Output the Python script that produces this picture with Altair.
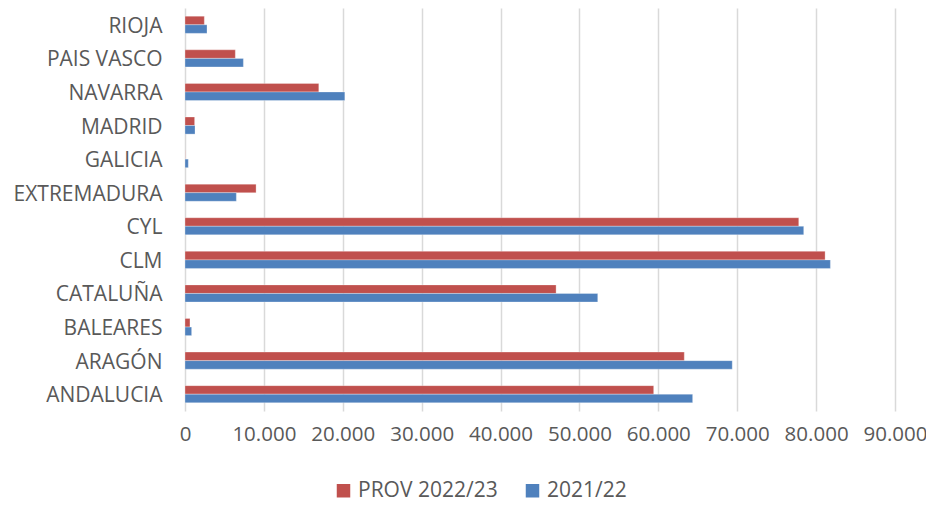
import altair as alt
import pandas as pd

categories = ["RIOJA", "PAIS VASCO", "NAVARRA", "MADRID", "GALICIA", "EXTREMADURA",
              "CYL", "CLM", "CATALUÑA", "BALEARES", "ARAGÓN", "ANDALUCIA"]
prov_2022_23 = [2450, 6380, 16960, 1220, 30, 9010, 77800, 81140, 47040, 630, 63290, 59410]
val_2021_22 = [2790, 7400, 20260, 1270, 420, 6510, 78430, 81810, 52320, 840, 69370, 64350]
series = ["PROV 2022/23", "2021/22"]
colors = ["#C0504D", "#4F81BD"]
x_ticks = [0, 10000, 20000, 30000, 40000, 50000, 60000, 70000, 80000, 90000]

rows = []
for c, a, b in zip(categories, prov_2022_23, val_2021_22):
    rows.append({"region": c, "serie": series[0], "value": a})
    rows.append({"region": c, "serie": series[1], "value": b})
df = pd.DataFrame(rows)

FONT = "Open Sans"
FS = 21
TXT = "#595959"

chart = alt.Chart(df).mark_bar(strokeWidth=0.6, stroke="#ffffff", strokeOpacity=0.5).encode(
    y=alt.Y("region:N", sort=categories,
            scale=alt.Scale(paddingInner=0.49, paddingOuter=0.245),
            axis=alt.Axis(title=None, domain=False, ticks=False, labelPadding=23,
                          labelOffset=2,
                          labelFontSize=FS, labelColor=TXT, labelFont=FONT,
                          grid=False)),
    yOffset=alt.YOffset("serie:N", sort=series, scale=alt.Scale(paddingInner=0, paddingOuter=0)),
    x=alt.X("value:Q", scale=alt.Scale(domain=[0, 90000], nice=False),
            axis=alt.Axis(title=None, values=x_ticks, domain=False, ticks=False,
                          labelPadding=13, labelFontSize=20.5, labelColor=TXT,
                          labelFont=FONT, gridColor="#d9d9d9", gridWidth=1.5,
                          labelOverlap=False, labelFlush=False,
                          labelExpr="replace(format(datum.value, ','), ',', '.')")),
    color=alt.Color("serie:N", sort=series,
                    scale=alt.Scale(domain=series, range=colors),
                    legend=alt.Legend(title=None, orient="none", direction="horizontal",
                                      legendX=148, legendY=472, padding=0,
                                      symbolType="square", symbolSize=182,
                                      symbolStrokeWidth=0,
                                      labelFontSize=FS, labelColor=TXT,
                                      labelFont=FONT, labelOffset=4, columnPadding=24)),
).properties(
    width=710, height=403,
    autosize=alt.AutoSizeParams(type="none"),
    padding={"left": 177, "top": 0, "right": 31, "bottom": 94},
).configure_view(stroke=None)

chart.save("out.html", embed_options={"renderer": "svg", "actions": False})
